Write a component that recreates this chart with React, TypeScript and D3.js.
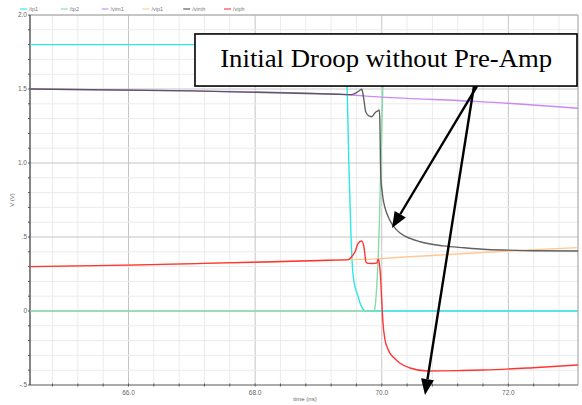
import React from "react";
import * as d3 from "d3";

const W = 582;
const H = 405;

const seriesNames = ["/tp1", "/tp2", "/vim1", "/vip1", "/vimh", "/viph"];
const seriesColors = ["#2ee6e6", "#86dca8", "#c98af5", "#ffc994", "#505050", "#ff3535"];

const tTp1 = [64.444, 69.41, 69.43, 69.45, 69.48, 69.515, 69.54, 69.57, 69.6, 69.625, 69.66, 69.7, 69.75, 73.1];
const vTp1 = [1.8, 1.8, 1.72, 1.56, 1.0, 0.5, 0.28, 0.18, 0.13, 0.1, 0.05, 0.015, 0.0, 0.0];

const tTp2 = [64.444, 69.88, 69.895, 69.96, 70.02, 70.04, 73.1];
const vTp2 = [0.0, 0.0, 0.03, 0.55, 1.56, 1.8, 1.8];

const tVim1 = [64.444, 67.0, 69.3, 70.0, 71.55, 73.1];
const vVim1 = [1.5, 1.487, 1.465, 1.445, 1.415, 1.37];

const tVip1 = [64.444, 66.0, 67.5, 69.18, 69.47, 69.9, 70.29, 71.0, 72.0, 73.1];
const vVip1 = [0.3, 0.31, 0.325, 0.343, 0.347, 0.352, 0.363, 0.38, 0.405, 0.428];

const tVimh = [64.444, 67.0, 69.3, 69.526, 69.6, 69.65, 69.684, 69.71, 69.747, 69.79, 69.842, 69.894, 69.94, 69.962, 69.972, 69.98, 69.988, 70.0, 70.02, 70.05, 70.079, 70.12, 70.158, 70.22, 70.289, 70.447, 70.605, 70.97, 71.3, 71.6, 72.0, 72.39, 73.1];
const vVimh = [1.5, 1.487, 1.465, 1.462, 1.475, 1.49, 1.498, 1.45, 1.347, 1.32, 1.313, 1.34, 1.352, 1.358, 1.25, 1.0, 0.88, 0.83, 0.76, 0.7, 0.66, 0.62, 0.59, 0.555, 0.527, 0.49, 0.468, 0.44, 0.427, 0.417, 0.411, 0.407, 0.405];

const tViph = [64.444, 66.0, 67.5, 69.18, 69.472, 69.53, 69.578, 69.63, 69.684, 69.72, 69.752, 69.79, 69.85, 69.92, 69.946, 69.962, 69.984, 70.0, 70.016, 70.052, 70.09, 70.131, 70.2, 70.289, 70.447, 70.711, 71.2, 71.6, 72.39, 73.1];
const vViph = [0.3, 0.31, 0.325, 0.343, 0.347, 0.37, 0.4, 0.46, 0.473, 0.43, 0.33, 0.322, 0.321, 0.324, 0.35, 0.322, 0.21, 0.07, -0.06, -0.196, -0.25, -0.286, -0.32, -0.353, -0.385, -0.405, -0.403, -0.399, -0.383, -0.365];

const seriesT = [tTp1, tTp2, tVim1, tVip1, tVimh, tViph];
const seriesV = [vTp1, vTp2, vVim1, vVip1, vVimh, vViph];

const xMajorTicks = [66, 68, 70, 72];
const xTickLabels = ["66.0", "68.0", "70.0", "72.0"];
const yMajorTicks = [-0.5, 0, 0.5, 1.0, 1.5, 2.0];
const yTickLabels = ["-.5", "0", ".5", "1.0", "1.5", "2.0"];
const xTitle = "time (ns)";
const yTitle = "V (V)";

const annotationText = "Initial Droop without Pre-Amp";
const annoBoxT = [67.05, 73.084];
const annoBoxV = [1.872, 1.52];
const annoTextPos = [70.07, 1.65];
const arrowStarts = [[71.505, 1.52], [71.457, 1.52]];
const arrowTips = [[70.162, 0.561], [70.683, -0.568]];

const L = 30, R = 578, T = 15, B = 385;

export default function App() {
  const x = d3.scaleLinear().domain([64.444, 73.1]).range([L, R]);
  const y = d3.scaleLinear().domain([-0.5, 2.0]).range([B, T]);

  const xMinor = d3.range(64.8, 73.0, 0.4).map((v) => +v.toFixed(2));
  const yMinor = d3.range(-0.5, 2.001, 0.1).map((v) => +v.toFixed(2));

  const line = d3
    .line<[number, number]>()
    .x((d) => x(d[0]))
    .y((d) => y(d[1]))
    .curve(d3.curveMonotoneX);

  const isMajorX = (v: number) => xMajorTicks.some((m) => Math.abs(m - v) < 1e-6);
  const isMajorY = (v: number) => yMajorTicks.some((m) => Math.abs(m - v) < 1e-6);

  const arrows = arrowStarts.map((s, i) => {
    const x0 = x(s[0]), y0 = y(s[1]);
    const x1 = x(arrowTips[i][0]), y1 = y(arrowTips[i][1]);
    const dx = x1 - x0, dy = y1 - y0;
    const len = Math.hypot(dx, dy);
    const ux = dx / len, uy = dy / len;
    const hl = 16, hw = 6.5;
    const bx = x1 - ux * hl, by = y1 - uy * hl;
    const px = -uy, py = ux;
    const head = `${x1},${y1} ${bx + px * hw},${by + py * hw} ${bx - px * hw},${by - py * hw}`;
    return { x0, y0, bx, by, head };
  });

  const bx0 = x(annoBoxT[0]);
  const bx1 = x(annoBoxT[1]);

  return (
    <svg
      width={W}
      height={H}
      style={{ position: "absolute", left: 0, top: 0, background: "#fff" }}
      fontFamily="Liberation Sans, Arial, sans-serif"
    >
      <defs>
        <clipPath id="plotclip">
          <rect x={L} y={T} width={R - L} height={B - T} />
        </clipPath>
      </defs>
      {xMinor.map((v) => (
        <line
          key={"gx" + v}
          x1={x(v)}
          x2={x(v)}
          y1={T}
          y2={B}
          stroke={isMajorX(v) ? "#c4c4c4" : "#ebebeb"}
          strokeWidth={1}
        />
      ))}
      {yMinor.map((v) => (
        <line
          key={"gy" + v}
          x1={L}
          x2={R}
          y1={y(v)}
          y2={y(v)}
          stroke={isMajorY(v) ? "#c4c4c4" : "#ebebeb"}
          strokeWidth={1}
        />
      ))}
      <line x1={L} x2={R} y1={T} y2={T} stroke="#aaa" strokeWidth={1.2} />
      <line x1={R} x2={R} y1={T} y2={B} stroke="#aaa" strokeWidth={1.2} />
      <line x1={L} x2={R} y1={B} y2={B} stroke="#999" strokeWidth={1.5} />
      <line x1={L} x2={L} y1={T} y2={B} stroke="#333" strokeWidth={1.2} />
      {yMinor.map((v) => (
        <line key={"ty" + v} x1={L - 2} x2={L} y1={y(v)} y2={y(v)} stroke="#555" strokeWidth={1} />
      ))}
      {xMinor.map((v) => (
        <line key={"tx" + v} x1={x(v)} x2={x(v)} y1={B - 1.5} y2={B + 1.5} stroke="#555" strokeWidth={1} />
      ))}
      {yMajorTicks.map((v, i) => (
        <text key={"yl" + v} x={L - 3} y={y(v) + 2.2} fontSize={6.5} fill="#666" textAnchor="end">
          {yTickLabels[i]}
        </text>
      ))}
      {xMajorTicks.map((v, i) => (
        <text key={"xl" + v} x={x(v)} y={B + 10} fontSize={6.5} fill="#666" textAnchor="middle">
          {xTickLabels[i]}
        </text>
      ))}
      <text x={305} y={B + 16} fontSize={6} fill="#666" textAnchor="middle">
        {xTitle}
      </text>
      <text
        x={14}
        y={200}
        fontSize={6}
        fill="#666"
        textAnchor="middle"
        transform="rotate(-90 14 200)"
      >
        {yTitle}
      </text>
      {seriesNames.map((n, i) => {
        const lx = 20 + i * 40.8;
        return (
          <g key={"lg" + n}>
            <line x1={lx} x2={lx + 7} y1={9} y2={9} stroke={seriesColors[i]} strokeOpacity={0.55} strokeWidth={2} />
            <text x={lx + 9} y={11} fontSize={5.5} fill="#777">
              {n}
            </text>
          </g>
        );
      })}
      <g clipPath="url(#plotclip)">
        {seriesNames.map((n, i) => {
          const pts = seriesT[i].map((t, j) => [t, seriesV[i][j]] as [number, number]);
          return (
            <path
              key={"s" + n}
              d={line(pts) || ""}
              fill="none"
              stroke={seriesColors[i]}
              strokeWidth={1.4}
              strokeOpacity={i === 4 ? 0.9 : 1}
            />
          );
        })}
      </g>
      <rect
        x={bx0}
        y={y(annoBoxV[0])}
        width={bx1 - bx0}
        height={y(annoBoxV[1]) - y(annoBoxV[0])}
        fill="#fff"
        stroke="#000"
        strokeWidth={1.6}
      />
      <text
        x={x(annoTextPos[0])}
        y={y(annoTextPos[1])}
        fontSize={25}
        fontFamily="Liberation Serif, Times New Roman, serif"
        textAnchor="middle"
        textLength={332}
        lengthAdjust="spacingAndGlyphs"
        fill="#000"
      >
        {annotationText}
      </text>
      {arrows.map((a, i) => (
        <g key={"ar" + i}>
          <line x1={a.x0} y1={a.y0} x2={a.bx} y2={a.by} stroke="#000" strokeWidth={2.4} />
          <polygon points={a.head} fill="#000" />
        </g>
      ))}
    </svg>
  );
}
